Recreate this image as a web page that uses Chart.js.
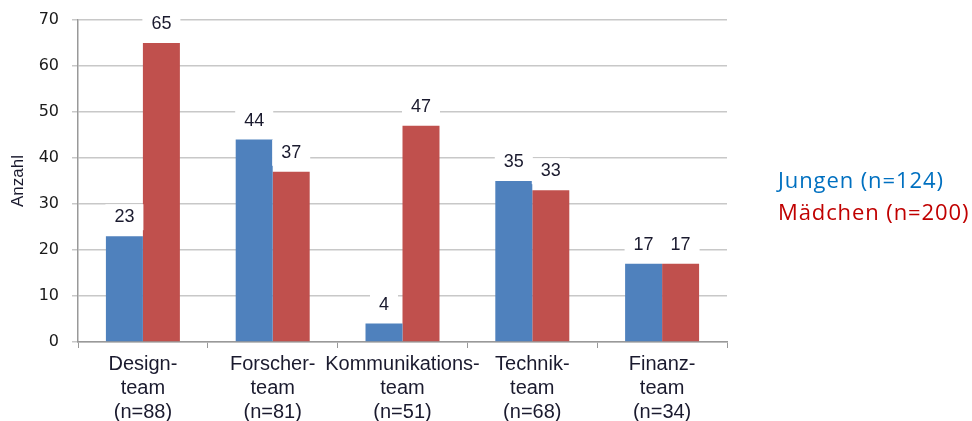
<!DOCTYPE html>
<html><head><meta charset="utf-8">
<script src="https://cdn.jsdelivr.net/npm/chart.js@4"></script>
<style>
html,body{margin:0;padding:0;background:#fff;}
#wrap{position:relative;width:972px;height:421px;}
.leg{position:absolute;font-family:"Open Sans","Noto Sans",sans-serif;font-size:22px;letter-spacing:0.9px;white-space:nowrap;line-height:1;}
</style></head><body>
<div id="wrap">
<canvas id="c" width="972" height="421"></canvas>
<div class="leg" style="left:778px;top:168px;color:#0070C0">Jungen (n=124)</div>
<div class="leg" style="left:778px;top:200px;color:#C00000">Mädchen (n=200)</div>
</div>
<script>
const categories = [["Design-","team","(n=88)"],["Forscher-","team","(n=81)"],["Kommunikations-","team","(n=51)"],["Technik-","team","(n=68)"],["Finanz-","team","(n=34)"]];
const jungen = [23,44,4,35,17];
const maedchen = [65,37,47,33,17];
const yTicks = [0,10,20,30,40,50,60,70];

const labelPlugin = {
  id:'vals',
  afterDatasetsDraw(chart){
    const ctx = chart.ctx;
    ctx.save();
    ctx.font = '18px "Liberation Sans", Arial, sans-serif';
    ctx.textAlign='center'; ctx.textBaseline='middle';
    chart.data.datasets.forEach((ds,i)=>{
      chart.getDatasetMeta(i).data.forEach((bar,j)=>{
        const t = String(ds.data[j]);
        const y = bar.y - 19;
        const w = ctx.measureText(t).width + 18;
        ctx.fillStyle='#fff';
        ctx.fillRect(bar.x - w/2, y-13, w, 26);
        ctx.fillStyle='#1a1a2e';
        ctx.fillText(t, bar.x, y);
      });
    });
    ctx.restore();
  }
};

new Chart(document.getElementById('c'),{
  type:'bar',
  data:{labels:categories,datasets:[
    {label:'Jungen (n=124)',data:jungen,backgroundColor:'#4F81BD',categoryPercentage:0.57,barPercentage:1},
    {label:'Mädchen (n=200)',data:maedchen,backgroundColor:'#C0504D',categoryPercentage:0.57,barPercentage:1}
  ]},
  options:{
    responsive:false,animation:false,
    layout:{padding:{top:20,right:245,left:0,bottom:0}},
    plugins:{legend:{display:false},tooltip:{enabled:false}},
    scales:{
      x:{
        grid:{drawOnChartArea:false,drawTicks:true,tickLength:6,offset:true,color:'#999'},
        border:{color:'#999',width:1.5},
        ticks:{font:{family:'"Liberation Sans", Arial, sans-serif',size:20,lineHeight:1.2},color:'#1a1a2e',padding:4,maxRotation:0,minRotation:0,autoSkip:false},
        afterFit(s){s.height=79;s.paddingLeft=0;s.paddingRight=0;}
      },
      y:{
        min:0,max:70,
        afterBuildTicks(s){s.ticks=yTicks.map(v=>({value:v}));},
        grid:{color:'#c8c8c8',tickLength:6,lineWidth:1.5},
        border:{color:'#999',width:1.5},
        ticks:{font:{family:'"DejaVu Sans", Verdana, sans-serif',size:16},color:'#1a1a1a',padding:13},
        title:{display:true,text:'Anzahl',font:{family:'"Liberation Sans", Arial, sans-serif',size:17},color:'#1a1a2e',padding:{top:8,bottom:0}},
        afterFit(s){s.width=78;s.paddingTop=0;s.paddingBottom=0;}
      }
    }
  },
  plugins:[labelPlugin]
});
</script>
</body></html>
